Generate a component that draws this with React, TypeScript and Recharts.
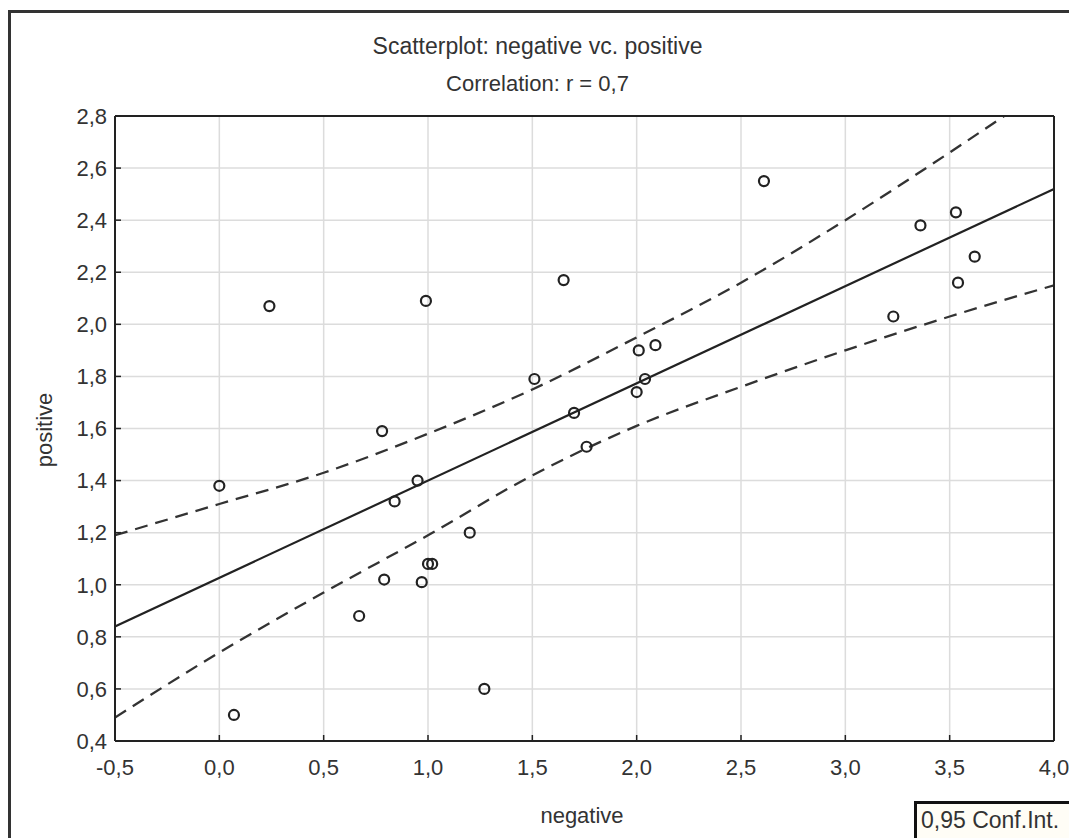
import { ComposedChart, Scatter, Line, XAxis, YAxis, CartesianGrid } from 'recharts'

// observed cases
const negative = [0.0, 0.07, 0.24, 0.67, 0.78, 0.79, 0.84, 0.95, 0.97, 1.0, 1.02, 0.99, 1.2, 1.27, 1.51, 1.65, 1.7, 1.76, 2.0, 2.01, 2.04, 2.09, 2.61, 3.23, 3.36, 3.53, 3.54, 3.62]
const positive = [1.38, 0.5, 2.07, 0.88, 1.59, 1.02, 1.32, 1.4, 1.01, 1.08, 1.08, 2.09, 1.2, 0.6, 1.79, 2.17, 1.66, 1.53, 1.74, 1.9, 1.79, 1.92, 2.55, 2.03, 2.38, 2.43, 2.16, 2.26]

// regression line and 0,95 confidence band, read at the grid lines
const fitX = [-0.5, 4.0]
const fitY = [0.84, 2.52]
const bandX = [-0.5, 0.0, 0.5, 1.0, 1.5, 2.0, 2.5, 3.0, 3.5, 4.0]
const upperBand = [1.19, 1.31, 1.43, 1.58, 1.75, 1.95, 2.16, 2.4, 2.66, 2.93]
const lowerBand = [0.49, 0.74, 0.97, 1.19, 1.42, 1.61, 1.76, 1.9, 2.03, 2.15]

const xTicks = [-0.5, 0.0, 0.5, 1.0, 1.5, 2.0, 2.5, 3.0, 3.5, 4.0]
const yTicks = [0.4, 0.6, 0.8, 1.0, 1.2, 1.4, 1.6, 1.8, 2.0, 2.2, 2.4, 2.6, 2.8]

const FONT = '"Liberation Sans", Arial, sans-serif'
const INK = '#222'
const TICK = { fill: '#333', fontSize: 22, fontFamily: FONT }

const fmt = (v: number) => v.toFixed(1).replace('.', ',')

const points = negative.map((x, i) => ({ x, y: positive[i] }))
const fit = fitX.map((x, i) => ({ x, y: fitY[i] }))
const upper = bandX.map((x, i) => ({ x, y: upperBand[i] }))
const lower = bandX.map((x, i) => ({ x, y: lowerBand[i] }))

const Ring = (p: any) => <circle cx={p.cx} cy={p.cy} r={5} fill="none" stroke={INK} strokeWidth={2.2} />

export default function App() {
  return (
    <div style={{ position: 'absolute', left: 0, top: 0, width: 1069, height: 838, background: '#fff', overflow: 'hidden', fontFamily: FONT, color: '#333' }}>
      {/* outer frame */}
      <div style={{ position: 'absolute', left: 8, top: 10, right: -10, bottom: -10, borderLeft: '3px solid #333', borderTop: '3px solid #333' }} />

      <div style={{ position: 'absolute', left: 0, width: 1075, top: 33, textAlign: 'center', fontSize: 23 }}>
        Scatterplot: negative vc. positive
      </div>
      <div style={{ position: 'absolute', left: 0, width: 1075, top: 71, textAlign: 'center', fontSize: 22 }}>
        Correlation: r = 0,7
      </div>

      <ComposedChart width={1069} height={838} margin={{ top: 116, right: 15, bottom: 57, left: 55 }} style={{ position: 'absolute', left: 0, top: 0 }}>
        <CartesianGrid stroke="#dcdcdc" strokeWidth={1.5} />
        <XAxis xAxisId={0} type="number" dataKey="x" domain={[-0.5, 4]} ticks={xTicks} allowDataOverflow
          tickFormatter={fmt} tick={TICK} height={40} tickSize={-6} tickMargin={24}
          axisLine={{ stroke: INK, strokeWidth: 2 }} tickLine={{ stroke: INK, strokeWidth: 1.5 }} />
        <XAxis xAxisId="top" orientation="top" mirror type="number" dataKey="x" domain={[-0.5, 4]} ticks={xTicks} allowDataOverflow
          tick={false} tickSize={6} axisLine={{ stroke: INK, strokeWidth: 2 }} tickLine={{ stroke: INK, strokeWidth: 1.5 }} />
        <YAxis yAxisId={0} type="number" dataKey="y" domain={[0.4, 2.8]} ticks={yTicks} allowDataOverflow
          tickFormatter={fmt} tick={TICK} width={60} tickSize={-6} tickMargin={14}
          axisLine={{ stroke: INK, strokeWidth: 2 }} tickLine={{ stroke: INK, strokeWidth: 1.5 }} />
        <YAxis yAxisId="right" orientation="right" mirror type="number" dataKey="y" domain={[0.4, 2.8]} ticks={yTicks} allowDataOverflow
          tick={false} tickSize={6} axisLine={{ stroke: INK, strokeWidth: 2 }} tickLine={{ stroke: INK, strokeWidth: 1.5 }} />

        <Line data={upper} dataKey="y" type="monotone" stroke="#333" strokeWidth={2.3} strokeDasharray="13 8" dot={false} activeDot={false} isAnimationActive={false} />
        <Line data={lower} dataKey="y" type="monotone" stroke="#333" strokeWidth={2.3} strokeDasharray="13 8" dot={false} activeDot={false} isAnimationActive={false} />
        <Line data={fit} dataKey="y" type="linear" stroke={INK} strokeWidth={2.2} dot={false} activeDot={false} isAnimationActive={false} />
        <Scatter data={points} dataKey="y" shape={Ring} isAnimationActive={false} />
      </ComposedChart>

      <div style={{ position: 'absolute', left: 45, top: 430, transform: 'translate(-50%, -50%) rotate(-90deg)', fontSize: 22 }}>
        positive
      </div>
      <div style={{ position: 'absolute', left: 582, top: 816, transform: 'translate(-50%, -50%)', fontSize: 22 }}>
        negative
      </div>

      <div style={{ position: 'absolute', left: 914, top: 801, width: 170, height: 50, border: '3px solid #111', background: '#fffdf6', boxSizing: 'border-box', padding: '3px 0 0 4px', fontSize: 23, whiteSpace: 'nowrap' }}>
        0,95 Conf.Int.
      </div>
    </div>
  )
}
